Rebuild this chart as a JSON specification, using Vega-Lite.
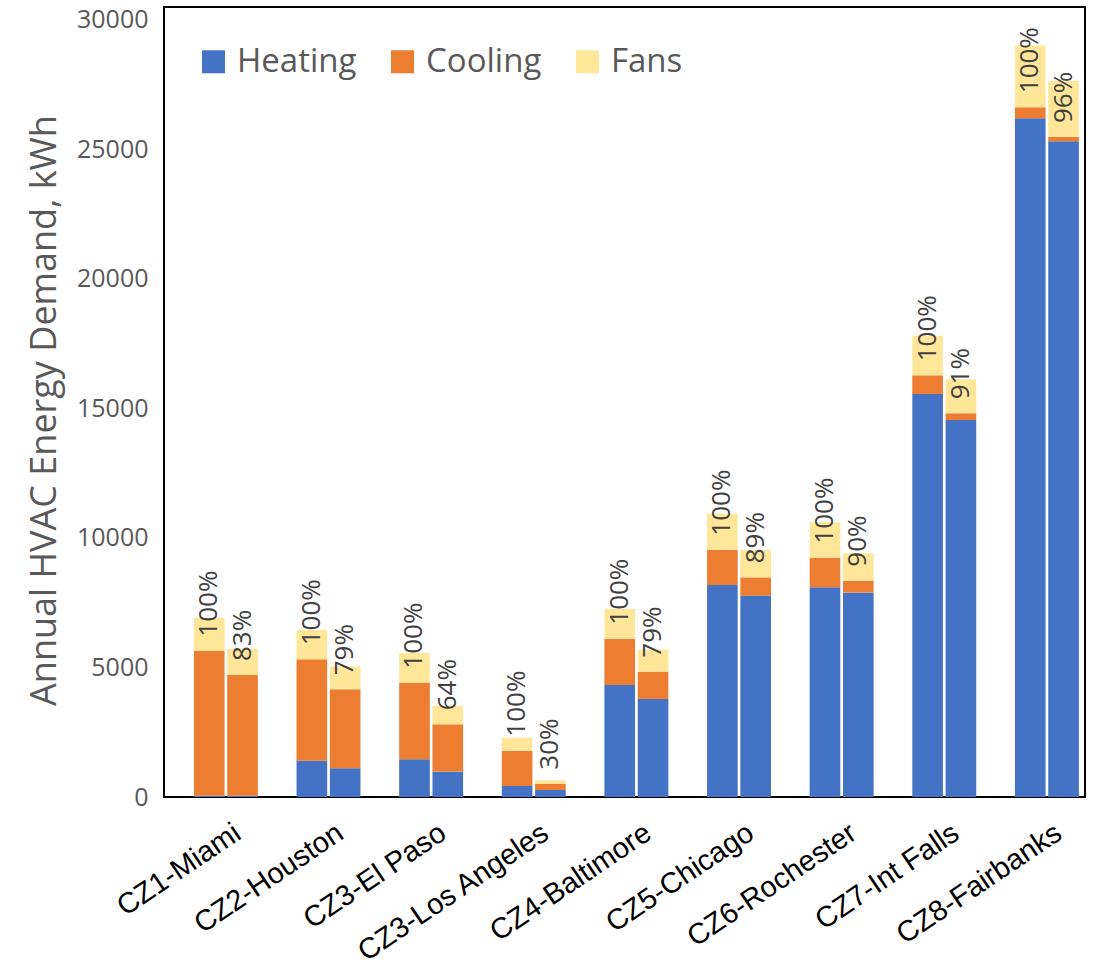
{
  "$schema": "https://vega.github.io/schema/vega-lite/v6.json",
  "width": 921,
  "height": 790,
  "autosize": {"type": "none"},
  "padding": {"left": 164, "top": 7, "right": 11, "bottom": 170},
  "background": "white",
  "data": {"values": [
    {"city": "CZ1-Miami", "case": "Baseline", "component": "Heating", "value": 50, "share": 1.0},
    {"city": "CZ1-Miami", "case": "Baseline", "component": "Cooling", "value": 5600, "share": 1.0},
    {"city": "CZ1-Miami", "case": "Baseline", "component": "Fans", "value": 1260, "share": 1.0},
    {"city": "CZ1-Miami", "case": "Improved", "component": "Heating", "value": 50, "share": 0.83},
    {"city": "CZ1-Miami", "case": "Improved", "component": "Cooling", "value": 4660, "share": 0.83},
    {"city": "CZ1-Miami", "case": "Improved", "component": "Fans", "value": 1015, "share": 0.83},
    {"city": "CZ2-Houston", "case": "Baseline", "component": "Heating", "value": 1400, "share": 1.0},
    {"city": "CZ2-Houston", "case": "Baseline", "component": "Cooling", "value": 3915, "share": 1.0},
    {"city": "CZ2-Houston", "case": "Baseline", "component": "Fans", "value": 1135, "share": 1.0},
    {"city": "CZ2-Houston", "case": "Improved", "component": "Heating", "value": 1110, "share": 0.79},
    {"city": "CZ2-Houston", "case": "Improved", "component": "Cooling", "value": 3050, "share": 0.79},
    {"city": "CZ2-Houston", "case": "Improved", "component": "Fans", "value": 885, "share": 0.79},
    {"city": "CZ3-El Paso", "case": "Baseline", "component": "Heating", "value": 1455, "share": 1.0},
    {"city": "CZ3-El Paso", "case": "Baseline", "component": "Cooling", "value": 2960, "share": 1.0},
    {"city": "CZ3-El Paso", "case": "Baseline", "component": "Fans", "value": 1145, "share": 1.0},
    {"city": "CZ3-El Paso", "case": "Improved", "component": "Heating", "value": 980, "share": 0.64},
    {"city": "CZ3-El Paso", "case": "Improved", "component": "Cooling", "value": 1825, "share": 0.64},
    {"city": "CZ3-El Paso", "case": "Improved", "component": "Fans", "value": 720, "share": 0.64},
    {"city": "CZ3-Los Angeles", "case": "Baseline", "component": "Heating", "value": 425, "share": 1.0},
    {"city": "CZ3-Los Angeles", "case": "Baseline", "component": "Cooling", "value": 1365, "share": 1.0},
    {"city": "CZ3-Los Angeles", "case": "Baseline", "component": "Fans", "value": 500, "share": 1.0},
    {"city": "CZ3-Los Angeles", "case": "Improved", "component": "Heating", "value": 270, "share": 0.30},
    {"city": "CZ3-Los Angeles", "case": "Improved", "component": "Cooling", "value": 245, "share": 0.30},
    {"city": "CZ3-Los Angeles", "case": "Improved", "component": "Fans", "value": 130, "share": 0.30},
    {"city": "CZ4-Baltimore", "case": "Baseline", "component": "Heating", "value": 4325, "share": 1.0},
    {"city": "CZ4-Baltimore", "case": "Baseline", "component": "Cooling", "value": 1785, "share": 1.0},
    {"city": "CZ4-Baltimore", "case": "Baseline", "component": "Fans", "value": 1150, "share": 1.0},
    {"city": "CZ4-Baltimore", "case": "Improved", "component": "Heating", "value": 3785, "share": 0.79},
    {"city": "CZ4-Baltimore", "case": "Improved", "component": "Cooling", "value": 1055, "share": 0.79},
    {"city": "CZ4-Baltimore", "case": "Improved", "component": "Fans", "value": 850, "share": 0.79},
    {"city": "CZ5-Chicago", "case": "Baseline", "component": "Heating", "value": 8185, "share": 1.0},
    {"city": "CZ5-Chicago", "case": "Baseline", "component": "Cooling", "value": 1365, "share": 1.0},
    {"city": "CZ5-Chicago", "case": "Baseline", "component": "Fans", "value": 1390, "share": 1.0},
    {"city": "CZ5-Chicago", "case": "Improved", "component": "Heating", "value": 7775, "share": 0.89},
    {"city": "CZ5-Chicago", "case": "Improved", "component": "Cooling", "value": 705, "share": 0.89},
    {"city": "CZ5-Chicago", "case": "Improved", "component": "Fans", "value": 1055, "share": 0.89},
    {"city": "CZ6-Rochester", "case": "Baseline", "component": "Heating", "value": 8095, "share": 1.0},
    {"city": "CZ6-Rochester", "case": "Baseline", "component": "Cooling", "value": 1145, "share": 1.0},
    {"city": "CZ6-Rochester", "case": "Baseline", "component": "Fans", "value": 1365, "share": 1.0},
    {"city": "CZ6-Rochester", "case": "Improved", "component": "Heating", "value": 7890, "share": 0.90},
    {"city": "CZ6-Rochester", "case": "Improved", "component": "Cooling", "value": 460, "share": 0.90},
    {"city": "CZ6-Rochester", "case": "Improved", "component": "Fans", "value": 1060, "share": 0.90},
    {"city": "CZ7-Int Falls", "case": "Baseline", "component": "Heating", "value": 15560, "share": 1.0},
    {"city": "CZ7-Int Falls", "case": "Baseline", "component": "Cooling", "value": 720, "share": 1.0},
    {"city": "CZ7-Int Falls", "case": "Baseline", "component": "Fans", "value": 1530, "share": 1.0},
    {"city": "CZ7-Int Falls", "case": "Improved", "component": "Heating", "value": 14555, "share": 0.91},
    {"city": "CZ7-Int Falls", "case": "Improved", "component": "Cooling", "value": 260, "share": 0.91},
    {"city": "CZ7-Int Falls", "case": "Improved", "component": "Fans", "value": 1310, "share": 0.91},
    {"city": "CZ8-Fairbanks", "case": "Baseline", "component": "Heating", "value": 26205, "share": 1.0},
    {"city": "CZ8-Fairbanks", "case": "Baseline", "component": "Cooling", "value": 425, "share": 1.0},
    {"city": "CZ8-Fairbanks", "case": "Baseline", "component": "Fans", "value": 2380, "share": 1.0},
    {"city": "CZ8-Fairbanks", "case": "Improved", "component": "Heating", "value": 25315, "share": 0.96},
    {"city": "CZ8-Fairbanks", "case": "Improved", "component": "Cooling", "value": 165, "share": 0.96},
    {"city": "CZ8-Fairbanks", "case": "Improved", "component": "Fans", "value": 2165, "share": 0.96}
  ]},
  "encoding": {
    "x": {
      "field": "city",
      "type": "nominal",
      "sort": null,
      "scale": {"paddingInner": 0.377, "paddingOuter": 0.1756, "align": 0.83},
      "axis": {
        "title": null,
        "labelAngle": -34,
        "labelAlign": "right",
        "labelBaseline": "top",
        "labelFont": "Liberation Sans",
        "labelFontSize": 29,
        "labelColor": "#000000",
        "labelPadding": 21,
        "labelOffset": 4,
        "ticks": false,
        "tickSize": 0,
        "domain": false,
        "grid": false,
        "labelOverlap": false,
        "labelLimit": 400
      }
    },
    "xOffset": {"field": "case", "type": "nominal", "scale": {"paddingInner": 0.08}}
  },
  "layer": [
    {
      "transform": [
        {"stack": "value", "groupby": ["city", "case"], "as": ["v0", "v1"]}
      ],
      "mark": {"type": "bar", "strokeWidth": 0},
      "encoding": {
        "y": {
          "field": "v0",
          "type": "quantitative",
          "title": "Annual HVAC Energy Demand, kWh",
          "scale": {"domain": [0, 30500], "nice": false, "zero": true},
          "axis": {
            "values": [0, 5000, 10000, 15000, 20000, 25000, 30000],
            "format": "d",
            "grid": false,
            "domain": false,
            "ticks": false,
            "tickSize": 0,
            "labelPadding": 16,
            "labelFont": "Open Sans",
            "labelFontSize": 25,
            "labelColor": "#595959",
            "titleFont": "Open Sans",
            "titleFontSize": 36,
            "titleFontWeight": "normal",
            "titleColor": "#595959",
            "titleX": -101,
            "titleY": 403,
            "titleAngle": 270,
            "titleAlign": "center",
            "titleBaseline": "bottom"
          }
        },
        "y2": {"field": "v1"},
        "color": {
          "field": "component",
          "type": "nominal",
          "scale": {"domain": ["Heating", "Cooling", "Fans"], "range": ["#4472C4", "#ED7D31", "#FFE699"]},
          "legend": {
            "title": null,
            "orient": "none",
            "legendX": 33,
            "legendY": 38,
            "direction": "horizontal",
            "padding": 0,
            "symbolType": "square",
            "symbolSize": 529,
            "symbolStrokeWidth": 0,
            "labelFont": "Open Sans",
            "labelFontSize": 33,
            "labelColor": "#595959",
            "labelOffset": 7,
            "columnPadding": 29,
            "labelLimit": 300
          }
        }
      }
    },
    {
      "transform": [{"filter": "datum.component != 'Fans'"}],
      "mark": {
        "type": "text",
        "angle": 270,
        "align": "left",
        "baseline": "middle",
        "dx": 14,
        "font": "Open Sans",
        "fontSize": 26,
        "color": "#404040"
      },
      "encoding": {
        "y": {
          "aggregate": "sum",
          "field": "value",
          "type": "quantitative",
          "title": "Annual HVAC Energy Demand, kWh"
        },
        "text": {"field": "share", "type": "quantitative", "format": ".0%"}
      }
    }
  ],
  "config": {
    "view": {"stroke": "#000000", "strokeWidth": 2}
  }
}
